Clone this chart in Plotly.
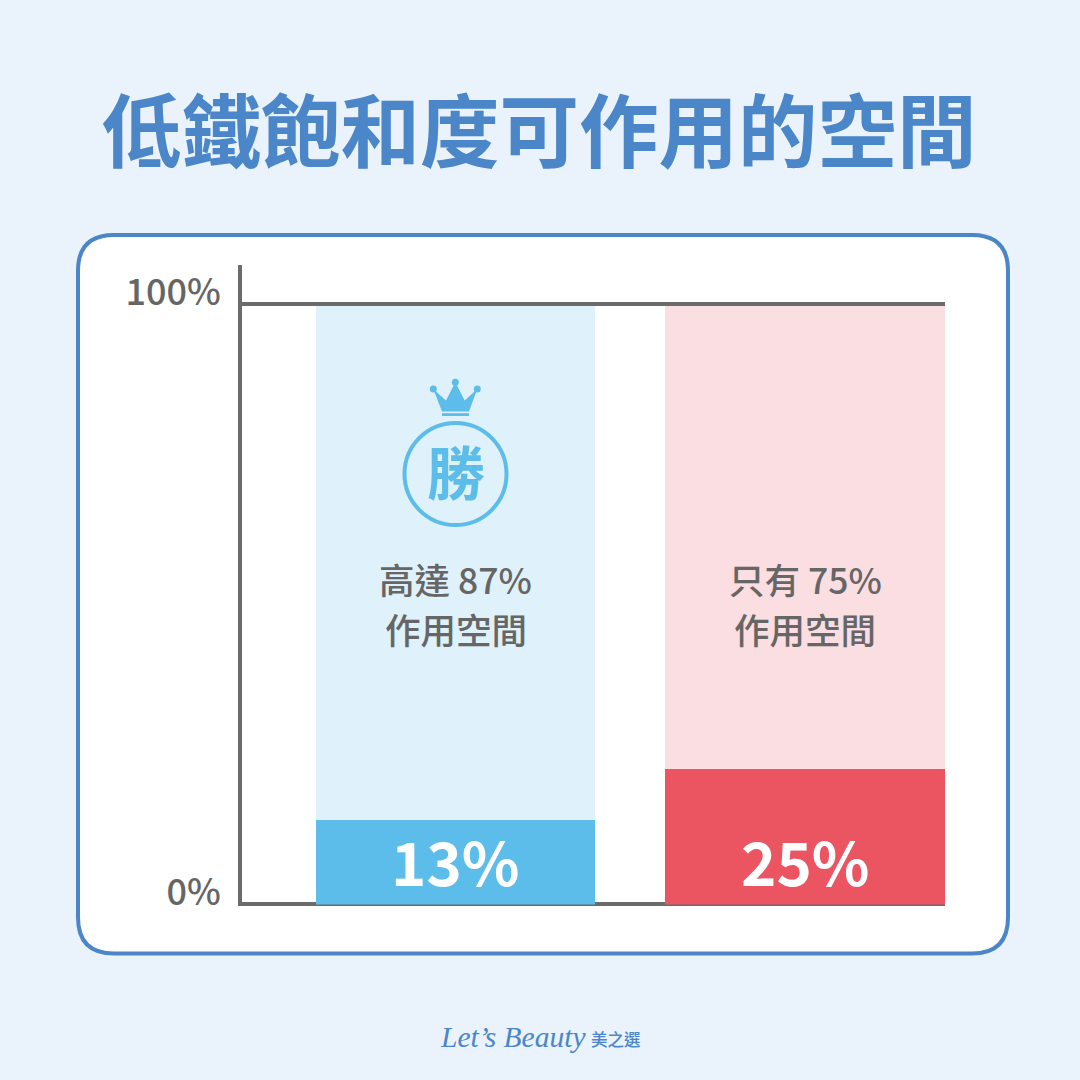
import plotly.graph_objects as go

# ---- data ----
categories = ["A", "B"]
# bar heights as drawn in the picture (they differ slightly from the printed labels)
bottom_heights = [14.0, 22.5]
top_heights = [86.0, 77.5]
bottom_labels = ["13%", "25%"]
top_labels = ["高達 87%", "只有 75%"]
top_line2 = "作用空間"
tick_values = [0, 100]
tick_labels = ["0%", "100%"]
title_text = "低鐵飽和度可作用的空間"
winner_text = "勝"
brand_latin = "Let’s Beauty"
brand_cjk = "美之選"

# ---- style ----
BG = "#EAF2FB"
BLUE = "#4A86C8"
GREY = "#666666"
AXIS = "#6B6B6B"
SKY = "#5CBDEA"
bottom_colors = [SKY, "#EB5562"]
top_colors = ["#DFF1FA", "#FBDEE2"]
CJK = "Noto Sans CJK TC"
MEDIUM = "Noto Sans CJK TC Medium, Noto Sans CJK TC"
S = 1080


def px(v):
    return v / S


def py(v):
    return 1 - v / S


def rounded(x0, y0, x1, y1, r):
    xa, xb, ya, yb = px(x0), px(x1), py(y0), py(y1)
    rx, ry = r / S, r / S
    return (f"M {xa+rx} {ya} L {xb-rx} {ya} Q {xb} {ya} {xb} {ya-ry} "
            f"L {xb} {yb+ry} Q {xb} {yb} {xb-rx} {yb} L {xa+rx} {yb} "
            f"Q {xa} {yb} {xa} {yb+ry} L {xa} {ya-ry} Q {xa} {ya} {xa+rx} {ya} Z")


def poly(points):
    return "M " + " L ".join(f"{px(a)} {py(b)}" for a, b in points) + " Z"


def label(text, x, y, size, color, xref="paper", weight=500, family=CJK, **font):
    return dict(text=text, xref=xref, yref="paper", x=x, y=py(y), showarrow=False,
                xanchor="center", yanchor="middle",
                font=dict(family=family, size=size, color=color, weight=weight, **font))


fig = go.Figure()
fig.add_bar(x=[0, 1], y=bottom_heights, marker=dict(color=bottom_colors, line_width=0), hoverinfo="skip")
fig.add_bar(x=[0, 1], y=top_heights, marker=dict(color=top_colors, line_width=0), hoverinfo="skip")

shapes = [
    dict(type="path", xref="paper", yref="paper", path=rounded(78, 235, 1008, 953.5, 36),
         fillcolor="white", line=dict(color=BLUE, width=4), layer="below"),
    # baseline sits partly under the bars, the 100% line sits over them
    dict(type="line", xref="paper", yref="paper", x0=px(238), x1=px(945), y0=py(904), y1=py(904),
         line=dict(color=AXIS, width=4), layer="below"),
    dict(type="line", xref="paper", yref="y", x0=px(238), x1=px(945), y0=tick_values[1], y1=tick_values[1],
         line=dict(color=AXIS, width=4), layer="above"),
    # badge: circle and crown
    dict(type="circle", xref="paper", yref="paper", x0=px(404.5), x1=px(506.5), y0=py(525), y1=py(423),
         fillcolor="rgba(0,0,0,0)", line=dict(color=SKY, width=4), layer="above"),
    dict(type="path", xref="paper", yref="paper", line_width=0, fillcolor=SKY, layer="above",
         path=poly([(433.3, 389), (446, 400.5), (455.3, 382.3), (464.7, 400.5), (477.3, 389), (469, 411.5), (442, 411.5)])),
    dict(type="path", xref="paper", yref="paper", line_width=0, fillcolor=SKY, layer="above",
         path=poly([(442, 413.2), (469, 413.2), (469, 416), (442, 416)])),
]
for cx, cy in [(433.3, 389), (455.3, 382.3), (477.3, 389)]:
    shapes.append(dict(type="circle", xref="paper", yref="paper", line_width=0, fillcolor=SKY, layer="above",
                       x0=px(cx - 3.5), x1=px(cx + 3.5), y0=py(cy + 3.5), y1=py(cy - 3.5)))

annotations = [
    label(title_text, px(539.5), 126, 79.5, BLUE, weight=700),
    label(winner_text, px(455.5), 470, 58, SKY, weight=700),
    label(brand_latin, px(513), 1037, 29.5, BLUE, weight=400, family="Liberation Serif", style="italic"),
    label(brand_cjk, px(616), 1039, 16.5, BLUE, weight=500),
]
for i in range(2):
    annotations += [
        label(bottom_labels[i], i, 859.5, 60, "white", xref="x", weight=700),
        label(top_labels[i], i, 578, 35.5, GREY, xref="x", family=MEDIUM),
        label(top_line2, i, 628, 35.5, GREY, xref="x", family=MEDIUM),
    ]

fig.update_layout(
    width=S, height=S, margin=dict(l=0, r=0, t=0, b=0, pad=0),
    paper_bgcolor=BG, plot_bgcolor="rgba(0,0,0,0)",
    barmode="stack", bargap=0.2, showlegend=False,
    shapes=shapes, annotations=annotations,
    xaxis=dict(domain=[px(242), px(945)], range=[-0.61, 1.3986], showgrid=False, zeroline=False,
               showline=False, showticklabels=False, ticks="", automargin=False,
               fixedrange=True, tickmode="array", tickvals=[0, 1], ticktext=categories),
    yaxis=dict(domain=[py(904.5), py(264.5)], range=[0, 106.6], tickmode="array", tickvals=tick_values,
               ticktext=tick_labels, tickfont=dict(family=MEDIUM, size=36, color=GREY, weight=500),
               showgrid=False, zeroline=False, showline=True, linecolor=AXIS, automargin=False,
               linewidth=4, ticks="", ticklabelshift=-12, ticklabelstandoff=10, layer="below traces",
               fixedrange=True),
)

fig.write_html("out.html", config=dict(displayModeBar=False),
               post_script="document.body.style.margin='0';document.documentElement.style.overflow='hidden';")
